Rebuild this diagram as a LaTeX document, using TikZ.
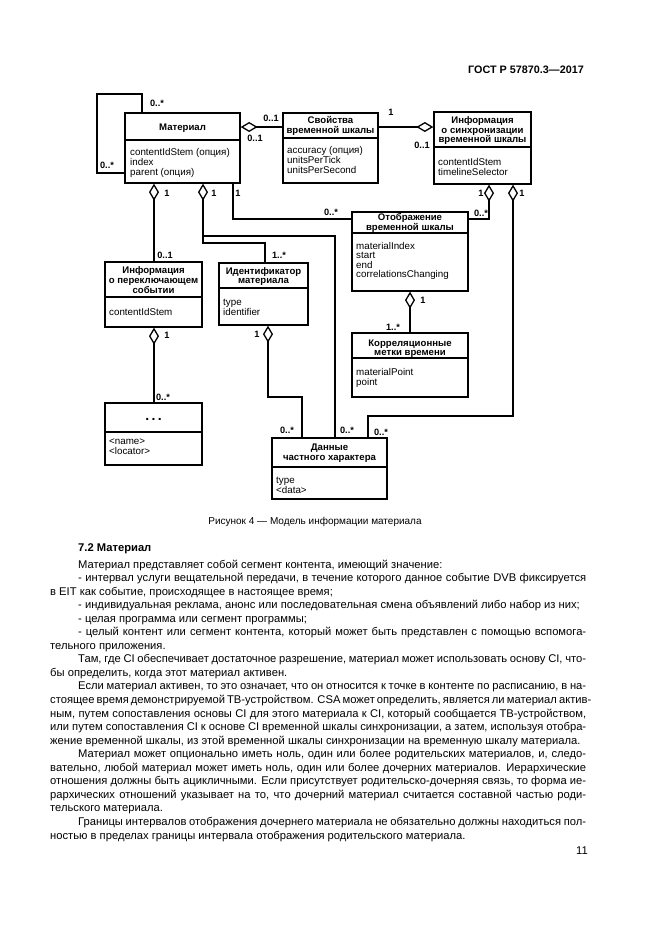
\documentclass[tikz,border=0pt]{standalone}
\usepackage{fontspec}
\setmainfont{Liberation Sans}
\usetikzlibrary{arrows.meta}

\newcommand\myBody{\fontsize{11.2}{13.55}\selectfont}
\newcommand\umlbox[6]{%
  \node[box, minimum width={(#4)-(#2)}, minimum height={(#5)-(#3)}] (#1) at ({((#2)+(#4))/2},{((#3)+(#5))/2}) {};
  \draw[ln] (#2,#6) -- (#4,#6);
}
\newcommand\jline[4]{\node[btxt] (#1) at (#2) {\makebox[#3][s]{#4}};}
\newcommand\pline[3]{\node[btxt] (#1) at (#2) {#3};}

\tikzset{
  box/.style={draw, line width=1.3pt, inner sep=0, fill=white},
  ln/.style={line width=1.3pt},
  ttl/.style={font=\fontsize{9.6}{10}\selectfont\bfseries, anchor=base, inner sep=0},
  att/.style={font=\fontsize{9.8}{10}\selectfont, anchor=base west, inner sep=0},
  lbl/.style={font=\fontsize{9.2}{10}\selectfont\bfseries, inner sep=0},
  agg/.style={ln, {Diamond[open, length=17pt, width=10pt]}-},
  aggend/.style={ln, -{Diamond[open, length=17pt, width=10pt]}},
  btxt/.style={anchor=base west, inner sep=0, font=\myBody},
}

\begin{document}
\begin{tikzpicture}[x=1pt, y=-1pt]
\useasboundingbox (0,0) rectangle (661,935);
\fill[white] (0,0) rectangle (661,935);

% header
\node[anchor=base east, inner sep=0, font=\fontsize{10.8}{12}\selectfont\bfseries] (hdr) at (584,73) {ГОСТ Р 57870.3—2017};

% ---------- boxes ----------
\umlbox{mat}{125}{113}{240}{183}{140}
\umlbox{svo}{283}{113}{378}{183}{138}
\umlbox{sync}{434}{112}{531}{184}{147}
\umlbox{otb}{352}{212}{468}{291}{233}
\umlbox{kor}{352}{333}{468}{397}{358}
\umlbox{ipe}{105}{262}{202}{327}{297}
\umlbox{idm}{219}{263}{308}{325}{288}
\umlbox{dots}{105}{403}{202}{465}{432}
\umlbox{dan}{272}{438}{387}{499}{467}

% Материал
\node[ttl] (mat-t1) at (182.5,130.5) {Материал};
\node[att] (mat-a1) at (130,155) {contentIdStem (опция)};
\node[att] (mat-a2) at (130,165) {index};
\node[att] (mat-a3) at (130,175) {parent (опция)};
% Свойства
\node[ttl] (svo-t1) at (330.5,123.5) {Свойства};
\node[ttl] (svo-t2) at (330.5,133) {временной шкалы};
\node[att] (svo-a1) at (287,153.5) {accuracy (опция)};
\node[att] (svo-a2) at (287,163.5) {unitsPerTick};
\node[att] (svo-a3) at (287,173.5) {unitsPerSecond};
% Информация о синхронизации
\node[ttl] (sync-t1) at (482.5,123.5) {Информация};
\node[ttl] (sync-t2) at (482.5,133) {о синхронизации};
\node[ttl] (sync-t3) at (482.5,142.5) {временной шкалы};
\node[att] (sync-a1) at (438,165.5) {contentIdStem};
\node[att] (sync-a2) at (438,175) {timelineSelector};
% Отображение
\node[ttl] (otb-t1) at (410,220.5) {Отображение};
\node[ttl] (otb-t2) at (410,230) {временной шкалы};
\node[att] (otb-a1) at (356,249) {materialIndex};
\node[att] (otb-a2) at (356,258.5) {start};
\node[att] (otb-a3) at (356,268) {end};
\node[att] (otb-a4) at (356,277.5) {correlationsChanging};
% Корреляционные
\node[ttl] (kor-t1) at (410,346) {Корреляционные};
\node[ttl] (kor-t2) at (410,355.5) {метки времени};
\node[att] (kor-a1) at (356,375.5) {materialPoint};
\node[att] (kor-a2) at (356,385) {point};
% Информация о переключающем событии
\node[ttl] (ipe-t1) at (153.5,273.5) {Информация};
\node[ttl] (ipe-t2) at (153.5,283.5) {о переключающем};
\node[ttl] (ipe-t3) at (153.5,293.5) {событии};
\node[att] (ipe-a1) at (109,315) {contentIdStem};
% Идентификатор
\node[ttl] (idm-t1) at (263.5,274) {Идентификатор};
\node[ttl] (idm-t2) at (263.5,283.5) {материала};
\node[att] (idm-a1) at (223,305.5) {type};
\node[att] (idm-a2) at (223,315.5) {identifier};
% ...
\node[ttl, font=\fontsize{14}{14}\selectfont\bfseries] (dots-t1) at (153.5,420) {.\,.\,.};
\node[att] (dots-a1) at (109,444.5) {<name>};
\node[att] (dots-a2) at (109,454.5) {<locator>};
% Данные
\node[ttl] (dan-t1) at (329.5,450.5) {Данные};
\node[ttl] (dan-t2) at (329.5,460.5) {частного характера};
\node[att] (dan-a1) at (276,483.5) {type};
\node[att] (dan-a2) at (276,493.5) {<data>};

% ---------- connectors ----------
\draw[ln] (mat.north -| 142,0) -- (142,94) -| (97,173) -- (mat.west |- 0,173);
\draw[agg] (mat.east |- 0,127) -- (svo.west |- 0,127);
\draw[aggend] (svo.east |- 0,127) -- (sync.west |- 0,127);
\draw[agg] (sync.south -| 489,0) |- (otb.east |- 0,219);
\draw[agg] (sync.south -| 513,0) |- (368,416) -- (dan.north -| 368,0);
\draw[ln] (mat.south -| 233,0) |- (otb.west |- 0,219);
\draw[agg] (mat.south -| 154,0) -- (ipe.north -| 154,0);
\draw[agg] (mat.south -| 203,0) |- (265,243) -- (idm.north -| 265,0);
\coordinate (br) at (203,236);
\draw[ln] (br) -| (dan.north -| 335,0);
\draw[agg] (idm.south -| 268,0) |- (302,397) -- (dan.north -| 302,0);
\draw[agg] (ipe.south -| 154,0) -- (dots.north -| 154,0);
\draw[agg] (otb.south -| 410,0) -- (kor.north -| 410,0);

% ---------- multiplicities ----------
\node[lbl] (m1) at (157,103) {0..*};
\node[lbl] (m2) at (107,165) {0..*};
\node[lbl] (m3) at (271,118) {0..1};
\node[lbl] (m4) at (255,138) {0..1};
\node[lbl] (m5) at (391,112) {1};
\node[lbl] (m6) at (422,145) {0..1};
\node[lbl] (m7) at (481,193) {1};
\node[lbl] (m8) at (481,213) {0..*};
\node[lbl] (m9) at (522,193) {1};
\node[lbl] (m10) at (381,432) {0..*};
\node[lbl] (m11) at (238,193) {1};
\node[lbl] (m12) at (331,212) {0..*};
\node[lbl] (m13) at (167,193) {1};
\node[lbl] (m14) at (165,255) {0..1};
\node[lbl] (m15) at (214,193) {1};
\node[lbl] (m16) at (279,255) {1..*};
\node[lbl] (m17) at (347,430) {0..*};
\node[lbl] (m18) at (257,334) {1};
\node[lbl] (m19) at (287,430) {0..*};
\node[lbl] (m20) at (167,335) {1};
\node[lbl] (m21) at (163,397) {0..*};
\node[lbl] (m22) at (423,300) {1};
\node[lbl] (m23) at (393,327) {1..*};

% caption
\node[anchor=base, inner sep=0, font=\fontsize{10}{12}\selectfont] (cap) at (315,524) {Рисунок 4 — Модель информации материала};

% ---------- body text ----------
\node[btxt, font=\myBody\bfseries] (h72) at (78,551) {7.2 Материал};
\pline{l1}{78,568}{Материал представляет собой сегмент контента, имеющий значение:}
\jline{l2}{78,581.55}{508pt}{- интервал услуги вещательной передачи, в течение которого данное событие DVB фиксируется}
\pline{l3}{50,595.1}{в EIT как событие, происходящее в настоящее время;}
\pline{l4}{78,608.65}{- индивидуальная реклама, анонс или последовательная смена объявлений либо набор из них;}
\pline{l5}{78,622.2}{- целая программа или сегмент программы;}
\jline{l6}{78,635.75}{508pt}{- целый контент или сегмент контента, который может быть представлен с помощью вспомога-}
\pline{l7}{50,649.3}{тельного приложения.}
\jline{l8}{78,662.85}{508pt}{Там, где CI обеспечивает достаточное разрешение, материал может использовать основу CI, что-}
\pline{l9}{50,676.4}{бы определить, когда этот материал активен.}
\jline{l10}{78,689.95}{508pt}{Если материал активен, то это означает, что он относится к точке в контенте по расписанию, в на-}
\jline{l11}{50,703.5}{536pt}{стоящее время демонстрируемой ТВ-устройством. CSA может определить, является ли материал актив-}
\jline{l12}{50,717.05}{536pt}{ным, путем сопоставления основы CI для этого материала к CI, который сообщается ТВ-устройством,}
\jline{l13}{50,730.6}{536pt}{или путем сопоставления CI к основе CI временной шкалы синхронизации, а затем, используя отобра-}
\pline{l14}{50,744.15}{жение временной шкалы, из этой временной шкалы синхронизации на временную шкалу материала.}
\jline{l15}{78,757.7}{508pt}{Материал может опционально иметь ноль, один или более родительских материалов, и, следо-}
\jline{l16}{50,771.25}{536pt}{вательно, любой материал может иметь ноль, один или более дочерних материалов. Иерархические}
\jline{l17}{50,784.8}{536pt}{отношения должны быть ацикличными. Если присутствует родительско-дочерняя связь, то форма ие-}
\jline{l18}{50,798.35}{536pt}{рархических отношений указывает на то, что дочерний материал считается составной частью роди-}
\pline{l19}{50,811.9}{тельского материала.}
\jline{l20}{78,825.45}{508pt}{Границы интервалов отображения дочернего материала не обязательно должны находиться пол-}
\pline{l21}{50,839}{ностью в пределах границы интервала отображения родительского материала.}

% page number
\node[anchor=base east, inner sep=0, font=\myBody] (pg) at (588,854) {11};
\end{tikzpicture}
\end{document}
